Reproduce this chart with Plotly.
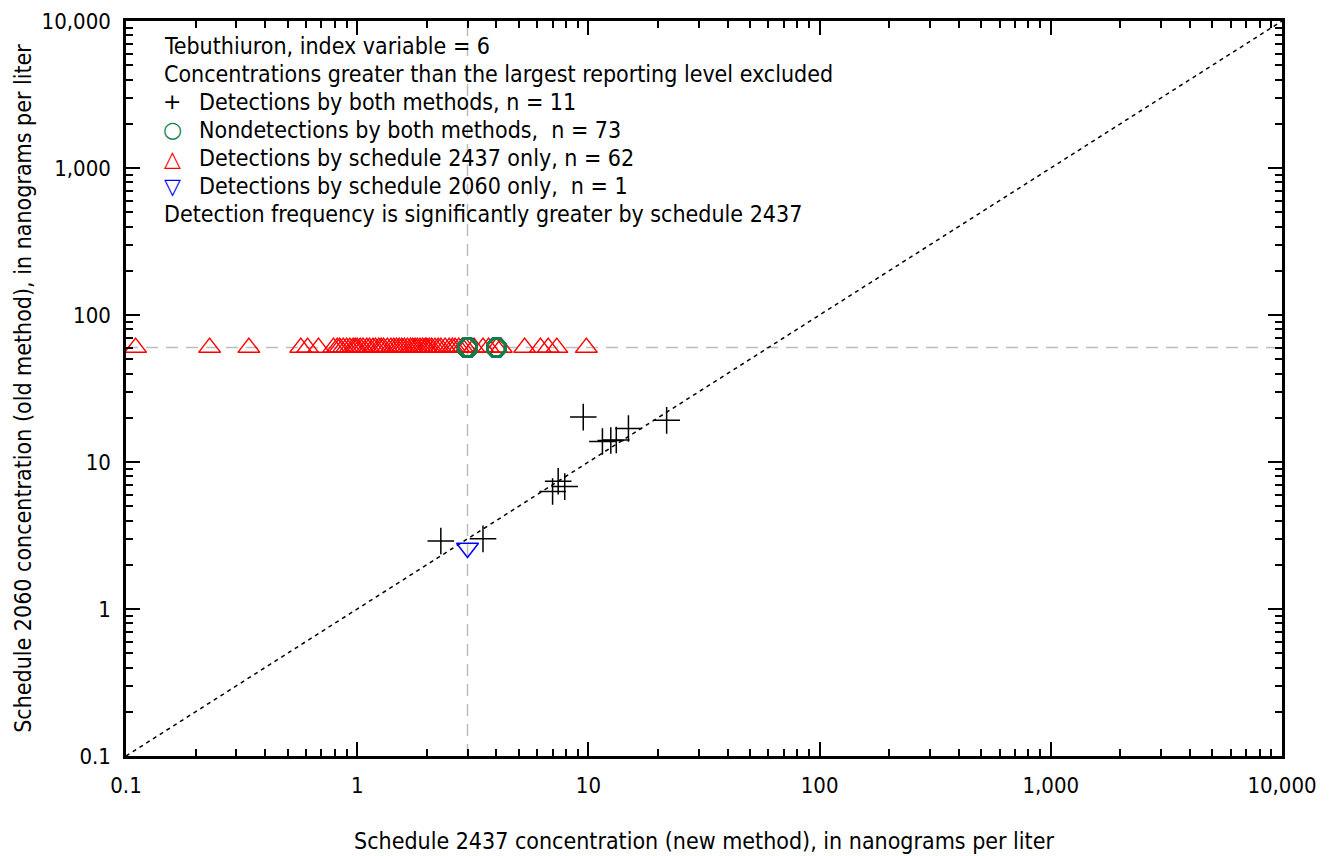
import plotly.graph_objects as go

# reporting levels (dashed reference lines)
rl_new = 3
rl_old = 60

# detections by both methods
both_x = [2.3, 3.5, 7.0, 7.4, 7.9, 9.5, 11.5, 12.5, 13.2, 14.9, 21.8]
both_y = [2.9, 3.0, 6.3, 7.4, 6.8, 20.2, 13.8, 14.0, 14.1, 16.9, 19.2]

# nondetections by both methods (plotted at reporting levels)
non_x = [3] * 60 + [4] * 13
non_y = [60] * 73

# detections by schedule 2437 only (old method value plotted at its reporting level)
new_only_x = [0.11, 0.23, 0.34, 0.57, 0.61, 0.68,
              0.79, 0.82, 0.84, 0.87, 0.9, 0.93, 0.96, 0.98, 1.0, 1.03,
              1.06, 1.1, 1.13, 1.17, 1.2, 1.24, 1.27, 1.3, 1.35, 1.4,
              1.44, 1.48, 1.52, 1.56, 1.6, 1.65, 1.7, 1.74, 1.78, 1.82,
              1.87, 1.92, 1.97, 2.0, 2.05, 2.1, 2.17, 2.24, 2.3, 2.4,
              2.5, 2.58, 2.65, 2.75, 2.85, 2.95,
              3.2, 3.5, 3.7, 4.0, 4.2, 5.3, 6.2, 6.7, 7.3, 9.8]
new_only_y = [60] * len(new_only_x)

# detections by schedule 2060 only
old_only_x = [3]
old_only_y = [2.6]

one_to_one = [0.1, 10000]

FONT = "DejaVu Sans Condensed, Liberation Sans Narrow, sans-serif"
RED, GREEN, BLUE = "#ff0000", "#0f7f50", "#0000ff"

fig = go.Figure()

fig.add_trace(go.Scatter(x=one_to_one, y=one_to_one, mode="lines",
                         line=dict(color="black", width=1.5, dash="4px,4px"),
                         hoverinfo="skip"))

fig.add_trace(go.Scatter(x=new_only_x, y=new_only_y, mode="markers",
                         marker=dict(symbol="triangle-up-open", size=19, color=RED,
                                     line=dict(color=RED, width=1.5))))
fig.add_trace(go.Scatter(x=non_x, y=non_y, mode="markers",
                         marker=dict(symbol="octagon-open", size=19, color=GREEN,
                                     line=dict(color=GREEN, width=2.5))))
fig.add_trace(go.Scatter(x=old_only_x, y=old_only_y, mode="markers",
                         marker=dict(symbol="triangle-down-open", size=19, color=BLUE,
                                     line=dict(color=BLUE, width=1.5))))
fig.add_trace(go.Scatter(x=both_x, y=both_y, mode="markers",
                         marker=dict(symbol="cross-thin-open", size=19, color="black",
                                     line=dict(color="black", width=1.5))))

fig.add_vline(x=rl_new, line=dict(color="#bdbdbd", width=1.5, dash="12px,8px"), layer="below")
fig.add_hline(y=rl_old, line=dict(color="#bdbdbd", width=1.5, dash="12px,8px"), layer="below")

# legend-like text block
W, H = 1329, 856
L, R, T, B = 126, 47, 21, 100
ph = H - T - B
pw = W - L - R

def py(pix):
    return (H - B - pix) / ph

def px(pix):
    return (pix - L) / pw

lines = [
    (None, None, "Tebuthiuron, index variable = 6"),
    (None, None, "Concentrations greater than the largest reporting level excluded"),
    ("+", "black", "Detections by both methods, n = 11"),
    ("○", GREEN, "Nondetections by both methods,  n = 73"),
    ("△", RED, "Detections by schedule 2437 only, n = 62"),
    ("▽", BLUE, "Detections by schedule 2060 only,  n = 1"),
    (None, None, "Detection frequency is significantly greater by schedule 2437"),
]
for i, (sym, col, txt) in enumerate(lines):
    yy = py(46 + 28 * i)
    if sym is None:
        fig.add_annotation(x=px(162), y=yy, xref="paper", yref="paper", text=txt,
                           showarrow=False, xanchor="left", yanchor="middle",
                           font=dict(size=23, color="black", family=FONT))
    else:
        fig.add_annotation(x=px(172), y=yy, xref="paper", yref="paper", text=sym,
                           showarrow=False, xanchor="center", yanchor="middle",
                           font=dict(size=22, color=col, family="DejaVu Sans"))
        fig.add_annotation(x=px(197), y=yy, xref="paper", yref="paper", text=txt,
                           showarrow=False, xanchor="left", yanchor="middle",
                           font=dict(size=23, color="black", family=FONT))

axis_common = dict(
    type="log", range=[-1, 4], dtick=1, tickformat=",~g",
    ticks="inside", ticklen=14, tickwidth=1.5, tickcolor="black",
    showline=True, linecolor="black", linewidth=2.5, mirror="allticks",
    showgrid=False, zeroline=False, automargin=False,
    tickfont=dict(size=22, family=FONT, color="black"),
    minor=dict(ticks="inside", ticklen=7, tickwidth=1.5, tickcolor="black",
               dtick="D1", showgrid=False),
)

fig.update_xaxes(**axis_common, ticklabelstandoff=8,
                 title=dict(text="Schedule 2437 concentration (new method), in nanograms per liter",
                            font=dict(size=23, family=FONT, color="black"), standoff=36))
fig.update_yaxes(**axis_common, ticklabelstandoff=8,
                 title=dict(text="Schedule 2060 concentration (old method), in nanograms per liter",
                            font=dict(size=23, family=FONT, color="black"), standoff=4))

fig.update_layout(
    width=W, height=H,
    margin=dict(l=L, r=R, t=T, b=B),
    plot_bgcolor="white", paper_bgcolor="white",
    showlegend=False,
)

fig.write_html("out.html", config={"displayModeBar": False},
               post_script="document.body.style.margin='0';")
